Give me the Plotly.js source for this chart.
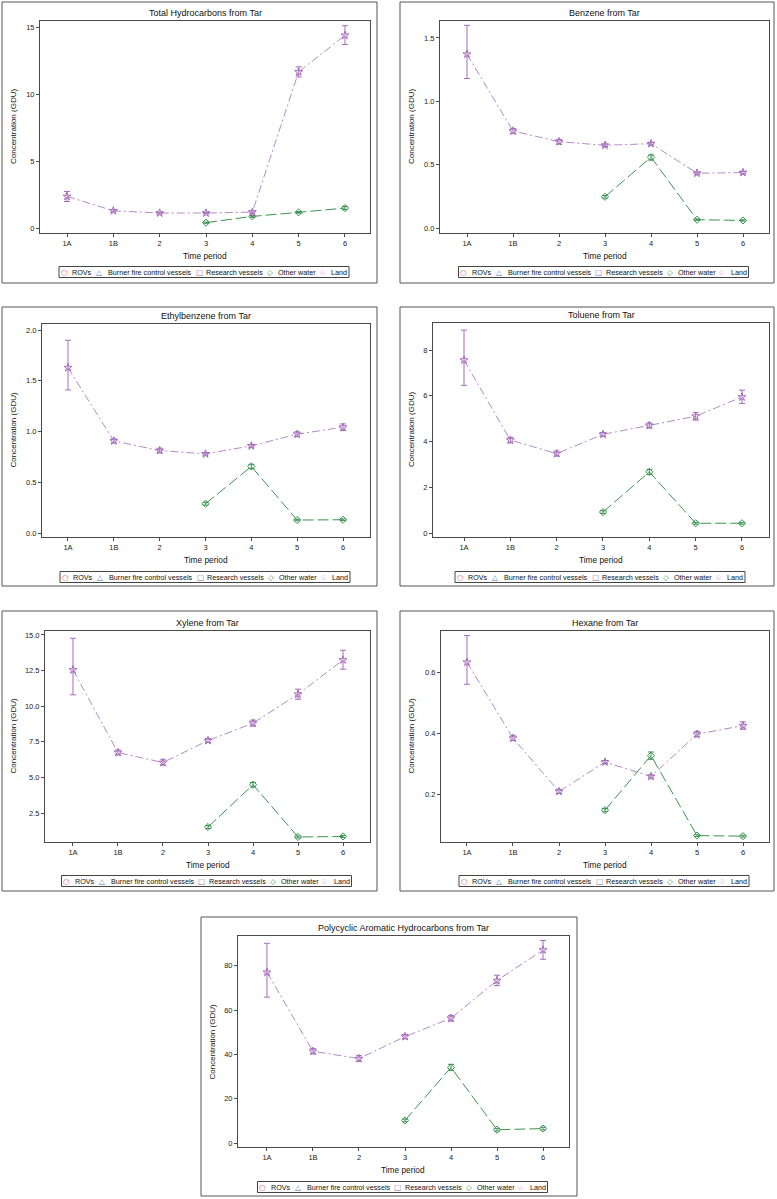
<!DOCTYPE html>
<html>
<head>
<meta charset="utf-8">
<script src="https://cdn.plot.ly/plotly-3.0.1.min.js"></script>
<style>html,body{margin:0;padding:0;background:#fff;}#chart{width:777px;height:1199px;}</style>
</head>
<body>
<div id="chart"></div>
<script>
// ---------------- DATA ----------------
const periods = ['1A', '1B', '2', '3', '4', '5', '6'];
const seriesNames = ['ROVs', 'Burner fire control vessels', 'Research vessels', 'Other water', 'Land'];

const panelTitles = [
  'Total Hydrocarbons from Tar',
  'Benzene from Tar',
  'Ethylbenzene from Tar',
  'Toluene from Tar',
  'Xylene from Tar',
  'Hexane from Tar',
  'Polycyclic Aromatic Hydrocarbons from Tar'
];

// Total Hydrocarbons
const thcLand   = [2.36, 1.29, 1.12, 1.12, 1.19, 11.65, 14.38];
const thcLandLo = [1.98, 1.21, 1.06, 1.07, 1.11, 11.28, 13.70];
const thcLandHi = [2.73, 1.37, 1.18, 1.17, 1.27, 12.03, 15.10];
const thcOw     = [null, null, null, 0.40, 0.87, 1.17, 1.49];
const thcOwLo   = [null, null, null, 0.35, 0.80, 1.11, 1.37];
const thcOwHi   = [null, null, null, 0.45, 0.94, 1.23, 1.61];

// Benzene
const benLand   = [1.372, 0.766, 0.682, 0.653, 0.666, 0.433, 0.438];
const benLandLo = [1.180, 0.745, 0.662, 0.643, 0.656, 0.425, 0.428];
const benLandHi = [1.600, 0.785, 0.700, 0.663, 0.676, 0.441, 0.448];
const benOw     = [null, null, null, 0.247, 0.559, 0.066, 0.060];
const benOwLo   = [null, null, null, 0.237, 0.537, 0.061, 0.055];
const benOwHi   = [null, null, null, 0.257, 0.577, 0.071, 0.065];

// Ethylbenzene
const ebzLand   = [1.630, 0.908, 0.813, 0.780, 0.859, 0.974, 1.043];
const ebzLandLo = [1.410, 0.888, 0.790, 0.768, 0.845, 0.950, 1.010];
const ebzLandHi = [1.900, 0.928, 0.836, 0.792, 0.873, 0.998, 1.075];
const ebzOw     = [null, null, null, 0.289, 0.656, 0.128, 0.131];
const ebzOwLo   = [null, null, null, 0.275, 0.635, 0.120, 0.123];
const ebzOwHi   = [null, null, null, 0.303, 0.677, 0.136, 0.139];

// Toluene
const tolLand   = [7.56, 4.07, 3.48, 4.32, 4.71, 5.11, 5.95];
const tolLandLo = [6.46, 3.95, 3.37, 4.24, 4.60, 4.94, 5.67];
const tolLandHi = [8.87, 4.19, 3.59, 4.40, 4.82, 5.28, 6.25];
const tolOw     = [null, null, null, 0.93, 2.68, 0.44, 0.44];
const tolOwLo   = [null, null, null, 0.87, 2.57, 0.40, 0.40];
const tolOwHi   = [null, null, null, 0.99, 2.79, 0.48, 0.48];

// Xylene
const xylLand   = [12.55, 6.75, 6.05, 7.59, 8.81, 10.84, 13.25];
const xylLandLo = [10.80, 6.58, 5.86, 7.45, 8.60, 10.49, 12.60];
const xylLandHi = [14.77, 6.92, 6.24, 7.73, 9.02, 11.20, 13.93];
const xylOw     = [null, null, null, 1.52, 4.49, 0.82, 0.86];
const xylOwLo   = [null, null, null, 1.42, 4.33, 0.75, 0.79];
const xylOwHi   = [null, null, null, 1.62, 4.65, 0.89, 0.93];

// Hexane
const hexLand   = [0.633, 0.385, 0.211, 0.307, 0.260, 0.398, 0.426];
const hexLandLo = [0.561, 0.377, 0.205, 0.302, 0.255, 0.389, 0.414];
const hexLandHi = [0.720, 0.393, 0.217, 0.312, 0.265, 0.407, 0.438];
const hexOw     = [null, null, null, 0.150, 0.328, 0.067, 0.065];
const hexOwLo   = [null, null, null, 0.145, 0.316, 0.064, 0.062];
const hexOwHi   = [null, null, null, 0.155, 0.340, 0.070, 0.068];

// Polycyclic Aromatic Hydrocarbons
const pahLand   = [77.0, 41.4, 38.1, 48.0, 56.3, 73.3, 87.1];
const pahLandLo = [65.8, 40.2, 36.8, 47.0, 55.0, 71.0, 82.9];
const pahLandHi = [90.1, 42.6, 39.4, 49.0, 57.6, 75.7, 91.4];
const pahOw     = [null, null, null, 10.2, 34.1, 6.0, 6.5];
const pahOwLo   = [null, null, null, 9.6, 32.7, 5.4, 5.9];
const pahOwHi   = [null, null, null, 10.8, 35.5, 6.6, 7.1];

// y tick values per panel
const thcTicks = [0, 5, 10, 15];
const benTicks = [0, 0.5, 1.0, 1.5];
const ebzTicks = [0, 0.5, 1.0, 1.5, 2.0];
const tolTicks = [0, 2, 4, 6, 8];
const xylTicks = [2.5, 5, 7.5, 10, 12.5, 15];
const hexTicks = [0.2, 0.4, 0.6];
const pahTicks = [0, 20, 40, 60, 80];

// ---------------- LAYOUT / STYLE ----------------
const W = 777, H = 1199;
const FONT = 'Liberation Sans, Arial, sans-serif';
const SYMFONT = 'DejaVu Sans, sans-serif';
const colLand = '#a66cbc';
const colLandLine = '#b48ac8';
const colOw = '#3a9450';
const legendCols = ['#dd5a58', '#4f6fb8', '#8c6aa8', '#3a9450', '#b07ac4'];
const legendSyms = ['\u25CB', '\u25B3', '\u25A1', '\u25C7', '\u2606'];
// legend item offsets (px) relative to the plot-area centre: symbol centre, label left edge
const legSymOff = [-141, -106, -6, 65, 117];
const legTxtOff = [-135, -99, -1, 71, 124];
const legBox = [-146, 144];

const panels = [
  {land: thcLand, lo: thcLandLo, hi: thcLandHi, ow: thcOw, olo: thcOwLo, ohi: thcOwHi, ticks: thcTicks, fmt: 'd',
   box: [2, 2, 377, 283], plot: [40, 21, 370, 233], yr: [-0.37, 15.45], xr: [-0.583, 6.54]},
  {land: benLand, lo: benLandLo, hi: benLandHi, ow: benOw, olo: benOwLo, ohi: benOwHi, ticks: benTicks, fmt: '.1f',
   box: [400, 2, 774, 283], plot: [440, 21, 769, 233], yr: [-0.039, 1.634], xr: [-0.587, 6.565]},
  {land: ebzLand, lo: ebzLandLo, hi: ebzLandHi, ow: ebzOw, olo: ebzOwLo, ohi: ebzOwHi, ticks: ebzTicks, fmt: '.1f',
   box: [2, 307, 377, 586], plot: [42, 324, 370, 537], yr: [-0.039, 2.06], xr: [-0.567, 6.589]},
  {land: tolLand, lo: tolLandLo, hi: tolLandHi, ow: tolOw, olo: tolOwLo, ohi: tolOwHi, ticks: tolTicks, fmt: 'd',
   box: [400, 307, 774, 586], plot: [433, 323, 769, 537], yr: [-0.16, 9.18], xr: [-0.669, 6.583]},
  {land: xylLand, lo: xylLandLo, hi: xylLandHi, ow: xylOw, olo: xylOwLo, ohi: xylOwHi, ticks: xylTicks, fmt: '.1f',
   box: [2, 611, 377, 891], plot: [45, 631, 370, 842], yr: [0.47, 15.28], xr: [-0.622, 6.6]},
  {land: hexLand, lo: hexLandLo, hi: hexLandHi, ow: hexOw, olo: hexOwLo, ohi: hexOwHi, ticks: hexTicks, fmt: '.1f',
   box: [400, 611, 774, 891], plot: [441, 631, 769, 842], yr: [0.046, 0.735], xr: [-0.565, 6.565]},
  {land: pahLand, lo: pahLandLo, hi: pahLandHi, ow: pahOw, olo: pahOwLo, ohi: pahOwHi, ticks: pahTicks, fmt: 'd',
   box: [201, 917, 577, 1196], plot: [238, 936, 569, 1147], yr: [-1.8, 93.4], xr: [-0.63, 6.565]}
];

const fx = x => x / W;
const fy = y => 1 - y / H;

const traces = [];
const layout = {
  width: W, height: H,
  margin: {l: 0, r: 0, t: 0, b: 0},
  paper_bgcolor: '#ffffff',
  plot_bgcolor: '#ffffff',
  showlegend: false,
  font: {family: FONT, color: '#222'},
  shapes: [],
  annotations: []
};

function diff(a, b) { return a.map((v, i) => (v === null || b[i] === null) ? null : +(a[i] - b[i]).toFixed(6)); }

panels.forEach((p, k) => {
  const idx = k + 1;
  const xa = 'x' + (idx === 1 ? '' : idx);
  const ya = 'y' + (idx === 1 ? '' : idx);
  const xkey = 'xaxis' + (idx === 1 ? '' : idx);
  const ykey = 'yaxis' + (idx === 1 ? '' : idx);

  layout[xkey] = {
    domain: [fx(p.plot[0]), fx(p.plot[2])],
    anchor: ya, type: 'category', range: p.xr,
    showline: true, mirror: true, linecolor: '#4a4a4a', linewidth: 1,
    ticks: 'outside', ticklen: 3, tickcolor: '#4a4a4a', tickwidth: 1,
    showgrid: false, zeroline: false,
    tickfont: {family: FONT, size: 7.5, color: '#222'}
  };
  layout[ykey] = {
    domain: [fy(p.plot[3]), fy(p.plot[1])],
    anchor: xa, range: p.yr,
    tickmode: 'array', tickvals: p.ticks,
    ticktext: p.ticks.map(v => p.fmt === 'd' ? String(v) : v.toFixed(1)),
    showline: true, mirror: true, linecolor: '#4a4a4a', linewidth: 1,
    ticks: 'outside', ticklen: 3, tickcolor: '#4a4a4a', tickwidth: 1,
    showgrid: false, zeroline: false,
    tickfont: {family: FONT, size: 7.5, color: '#222'}
  };

  traces.push({
    type: 'scatter', mode: 'lines+markers', name: 'Other water',
    x: periods, y: p.ow, xaxis: xa, yaxis: ya,
    line: {color: colOw, width: 1, dash: '11px,4px'},
    marker: {symbol: 'diamond-open', size: 5.5, color: colOw, line: {width: 1, color: colOw}},
    error_y: {type: 'data', symmetric: false, array: diff(p.ohi, p.ow), arrayminus: diff(p.ow, p.olo),
              color: colOw, thickness: 1, width: 3},
    connectgaps: false, hoverinfo: 'x+y'
  });
  traces.push({
    type: 'scatter', mode: 'lines+markers', name: 'Land',
    x: periods, y: p.land, xaxis: xa, yaxis: ya,
    line: {color: colLandLine, width: 1, dash: '8px,3px,2px,3px'},
    marker: {symbol: 'star-open', size: 6, color: colLand, line: {width: 1, color: colLand}},
    error_y: {type: 'data', symmetric: false, array: diff(p.hi, p.land), arrayminus: diff(p.land, p.lo),
              color: colLand, thickness: 1, width: 3},
    hoverinfo: 'x+y'
  });

  // outer panel box
  layout.shapes.push({
    type: 'rect', xref: 'paper', yref: 'paper',
    x0: fx(p.box[0]), x1: fx(p.box[2]), y0: fy(p.box[3]), y1: fy(p.box[1]),
    line: {color: '#555', width: 1}, fillcolor: 'rgba(0,0,0,0)', layer: 'below'
  });

  const cxp = (p.plot[0] + p.plot[2]) / 2;
  const cx = fx(cxp);
  // panel title
  layout.annotations.push({
    xref: 'paper', yref: 'paper', x: cx, y: fy(p.plot[1] - 8),
    xanchor: 'center', yanchor: 'middle', showarrow: false,
    text: panelTitles[k], font: {family: FONT, size: 9, color: '#111'}
  });
  // x axis title
  layout.annotations.push({
    xref: 'paper', yref: 'paper', x: cx, y: fy(p.plot[3] + 23),
    xanchor: 'center', yanchor: 'middle', showarrow: false,
    text: 'Time period', font: {family: FONT, size: 8.3, color: '#111'}
  });
  // y axis title
  layout.annotations.push({
    xref: 'paper', yref: 'paper', x: fx(p.box[0] + 11), y: fy((p.plot[1] + p.plot[3]) / 2),
    xanchor: 'center', yanchor: 'middle', showarrow: false, textangle: -90,
    text: 'Concentration (GDU)', font: {family: FONT, size: 8, color: '#111'}
  });
  // legend
  const ly = p.box[1] + 270;
  layout.shapes.push({
    type: 'rect', xref: 'paper', yref: 'paper',
    x0: fx(cxp + legBox[0]), x1: fx(cxp + legBox[1]), y0: fy(ly + 5.5), y1: fy(ly - 5.5),
    line: {color: '#444', width: 1}, fillcolor: 'rgba(0,0,0,0)'
  });
  seriesNames.forEach((n, j) => {
    layout.annotations.push({
      xref: 'paper', yref: 'paper', x: fx(cxp + legSymOff[j]), y: fy(ly),
      xanchor: 'center', yanchor: 'middle', showarrow: false,
      text: legendSyms[j], font: {family: SYMFONT, size: 7.5, color: legendCols[j]}
    });
    layout.annotations.push({
      xref: 'paper', yref: 'paper', x: fx(cxp + legTxtOff[j]), y: fy(ly),
      xanchor: 'left', yanchor: 'middle', showarrow: false,
      text: n, font: {family: FONT, size: 7.2, color: '#111'}
    });
  });
});

Plotly.newPlot('chart', traces, layout, {staticPlot: true, displayModeBar: false});
</script>
</body>
</html>
